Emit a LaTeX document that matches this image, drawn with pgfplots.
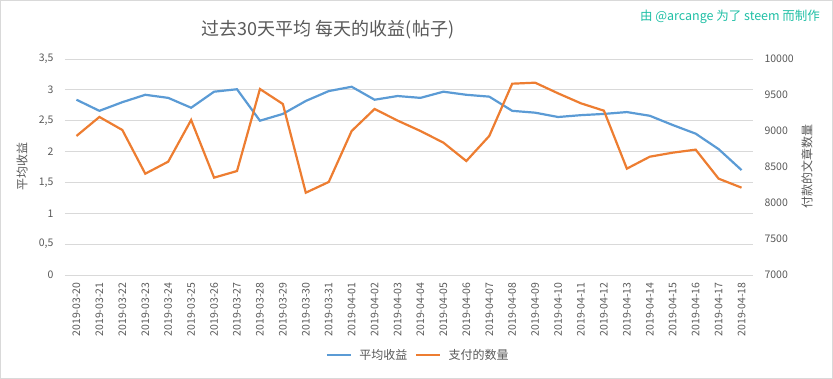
\documentclass[border=0pt]{standalone}
\usepackage{pgfplots}
\usepackage{pgfplotstable}
\pgfplotsset{compat=1.18}
\usepackage{fontspec}
\setmainfont{Noto Sans CJK SC}
\definecolor{blueL}{HTML}{5B9BD5}
\definecolor{orangeL}{HTML}{ED7D31}
\definecolor{gridc}{HTML}{D9D9D9}
\definecolor{txt}{HTML}{595959}
\definecolor{teal}{HTML}{1FBFA5}
\pgfplotstableread{
x avg cnt
0 2.84 8931
1 2.66 9195
2 2.80 9014
3 2.92 8407
4 2.87 8574
5 2.71 9153
6 2.97 8352
7 3.01 8444
8 2.50 9583
9 2.61 9375
10 2.82 8143
11 2.98 8292
12 3.05 9000
13 2.84 9306
14 2.90 9145
15 2.87 9000
16 2.97 8838
17 2.92 8583
18 2.89 8931
19 2.66 9657
20 2.63 9671
21 2.56 9523
22 2.59 9384
23 2.61 9282
24 2.64 8477
25 2.58 8643
26 2.43 8699
27 2.29 8741
28 2.04 8338
29 1.70 8213
}\data
\begin{document}
\begin{tikzpicture}
\draw[gridc, line width=1pt] (0.5pt,0.5pt) rectangle (832.5pt,378.5pt);
\pgfplotsset{
  common/.style={
    at={(65pt,104pt)}, anchor=south west,
    scale only axis, width=688pt, height=216pt,
    xmin=-0.5, xmax=29.5,
    axis line style={draw=none},
    major tick length=0pt,
    tick label style={font=\fontsize{10.5}{12}\selectfont, text=txt},
    /pgf/number format/assume math mode=true,
    /pgf/number format/1000 sep={},
    scaled y ticks=false,
    label style={font=\fontsize{12}{14}\selectfont, text=txt},
  }
}
\begin{axis}[common,
  ymin=0, ymax=3.5, ytick={0,0.5,...,3.5},
  /pgf/number format/use comma,
  ymajorgrids, grid style={gridc, line width=0.8pt},
  xtick={0,...,29},
  xticklabels={2019-03-20,2019-03-21,2019-03-22,2019-03-23,2019-03-24,2019-03-25,2019-03-26,2019-03-27,2019-03-28,2019-03-29,2019-03-30,2019-03-31,2019-04-01,2019-04-02,2019-04-03,2019-04-04,2019-04-05,2019-04-06,2019-04-07,2019-04-08,2019-04-09,2019-04-10,2019-04-11,2019-04-12,2019-04-13,2019-04-14,2019-04-15,2019-04-16,2019-04-17,2019-04-18},
  xticklabel style={rotate=90, anchor=east},
  xticklabel shift=4pt,
  yticklabel shift=8pt,
  ylabel={平均收益},
  ylabel style={at={(axis description cs:-0.0625,0.5)}, anchor=center, rotate=0},
]
\addplot[blueL, line width=2.2pt] table[x=x,y=avg]{\data};
\end{axis}
\begin{axis}[common,
  ymin=7000, ymax=10000, ytick={7000,7500,...,10000},
  axis x line=none, axis y line*=right,
  xtick=\empty,
  yticklabel shift=8pt,
  yticklabel style={anchor=west},
  ylabel={付款的文章数量},
  ylabel style={at={(axis description cs:1.0785,0.5)}, anchor=center},
  legend style={at={(axis description cs:0.513,-0.37)}, anchor=center, draw=none,
    font=\fontsize{12}{14}\selectfont, text=txt, column sep=6pt,
    nodes={inner xsep=1.5pt}},
  legend columns=2,
  legend image code/.code={\draw[#1] (0pt,0pt) -- (24pt,0pt);},
]
\addlegendimage{blueL, line width=2.2pt}
\addlegendentry{平均收益}
\addplot[orangeL, line width=2.2pt] table[x=x,y=cnt]{\data};
\addlegendentry{支付的数量}
\end{axis}
\node[text=txt, font=\fontsize{18}{20}\selectfont] at (328pt,349pt) {过去30天平均 每天的收益(帖子)};
\node[text=teal, font=\fontsize{12.5}{14}\selectfont] at (730pt,362pt) {由 @arcange 为了 steem 而制作};
\end{tikzpicture}
\end{document}
